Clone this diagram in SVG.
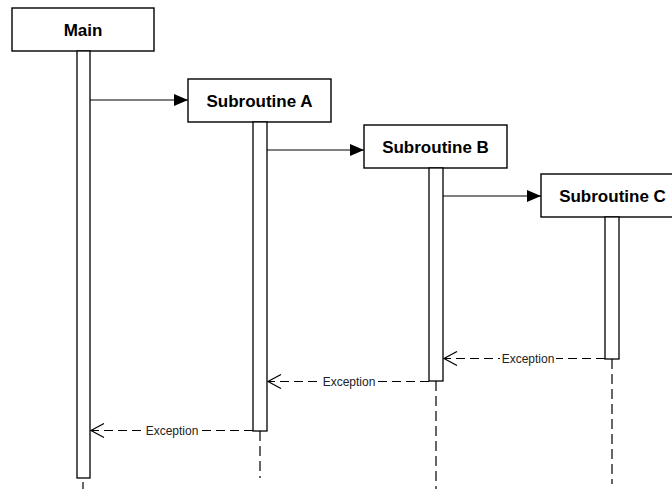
<svg xmlns="http://www.w3.org/2000/svg" width="672" height="489" viewBox="0 0 672 489">
<style>
.box{fill:#fff;stroke:#000;stroke-width:1.4}
.bar{fill:#fff;stroke:#000;stroke-width:1.3}
.title{font-family:"Liberation Sans",Arial,sans-serif;font-weight:bold;font-size:17px;fill:#000;text-anchor:middle}
.msg{stroke:#000;stroke-width:1.2;fill:none}
.ret{stroke:#000;stroke-width:1.2;fill:none;stroke-dasharray:9,5}
.life{stroke:#000;stroke-width:1.2;fill:none;stroke-dasharray:10,5}
.lbl{font-family:"Liberation Sans",Arial,sans-serif;font-size:12px;fill:#222;text-anchor:middle}
</style>
<defs>
<marker id="filled" markerWidth="14" markerHeight="12" refX="14" refY="6" orient="auto" markerUnits="userSpaceOnUse">
<path d="M0,0 L14,6 L0,12 Z" fill="#000"/>
</marker>
<marker id="open" markerWidth="16" markerHeight="16" refX="14" refY="8" orient="auto" markerUnits="userSpaceOnUse">
<path d="M1,1 L14,8 L1,15" fill="none" stroke="#000" stroke-width="1.2" stroke-dasharray="none"/>
</marker>
</defs>
<g id="main">
<rect class="box" x="12" y="8" width="142" height="43"/>
<text class="title" x="83" y="36">Main</text>
<rect class="bar" x="77" y="51" width="13" height="427"/>
</g>
<g id="subA">
<rect class="box" x="188" y="79" width="143" height="43"/>
<text class="title" x="259.5" y="107">Subroutine A</text>
<rect class="bar" x="253" y="122" width="14" height="309"/>
</g>
<g id="subB">
<rect class="box" x="364" y="125" width="143" height="43"/>
<text class="title" x="435.5" y="153">Subroutine B</text>
<rect class="bar" x="429" y="168" width="14" height="213"/>
</g>
<g id="subC">
<rect class="box" x="541" y="174" width="143" height="43"/>
<text class="title" x="612.5" y="202">Subroutine C</text>
<rect class="bar" x="605" y="217" width="14" height="142"/>
</g>
<g id="connectors">
<line class="life" x1="83" y1="482" x2="83" y2="489"/>
<line class="life" x1="260" y1="431" x2="260" y2="478"/>
<line class="life" x1="436" y1="381" x2="436" y2="489"/>
<line class="life" x1="612" y1="359" x2="612" y2="484"/>
<line class="msg" x1="90" y1="100" x2="188" y2="100" marker-end="url(#filled)"/>
<line class="msg" x1="267" y1="150" x2="364" y2="150" marker-end="url(#filled)"/>
<line class="msg" x1="443" y1="196" x2="541" y2="196" marker-end="url(#filled)"/>
<line class="ret" x1="605" y1="358.5" x2="444" y2="358.5" marker-end="url(#open)"/>
<line class="ret" x1="429" y1="381.5" x2="268" y2="381.5" marker-end="url(#open)"/>
<line class="ret" x1="253" y1="430.5" x2="91" y2="430.5" marker-end="url(#open)"/>
<rect x="500" y="351" width="56" height="14" fill="#fff"/>
<text class="lbl" x="528" y="362.5">Exception</text>
<rect x="321" y="374" width="56" height="14" fill="#fff"/>
<text class="lbl" x="349" y="385.5">Exception</text>
<rect x="144" y="423" width="56" height="14" fill="#fff"/>
<text class="lbl" x="172" y="434.5">Exception</text>
</g>
</svg>
